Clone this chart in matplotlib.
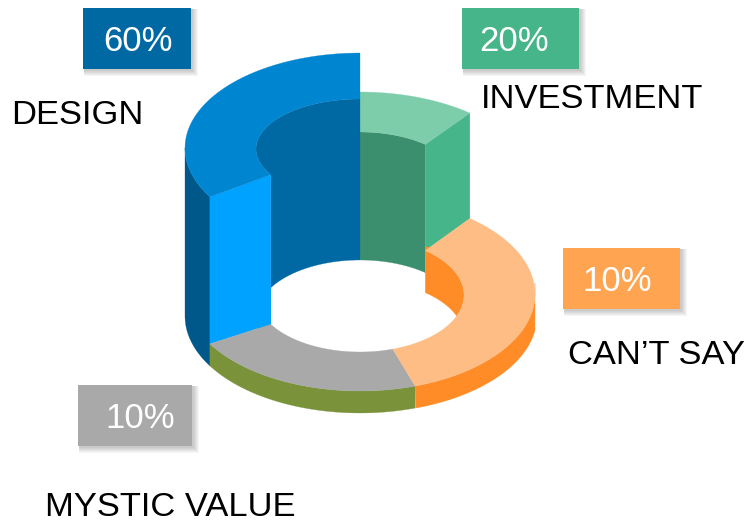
import numpy as np
import matplotlib
matplotlib.use('Agg')
from matplotlib import pyplot as plt
from matplotlib.patches import Polygon, Rectangle

# order of the slices going counter clockwise from 12 o'clock
categories = ['DESIGN', 'MYSTIC VALUE', "CAN\u2019T SAY", 'INVESTMENT']
value_labels = ['60%', '10%', '10%', '20%']
# share of the ring each slice really takes in the picture (percent of circle)
slice_share = [33.6, 21.5, 34.1, 10.8]
# how far each slice is pulled up above the ring (px)
slice_lift = [146, 0, 0, 107]

plt.rcParams['font.family'] = ['Liberation Sans', 'DejaVu Sans']

fig = plt.figure(figsize=(7.46, 5.2), dpi=100)
ax = fig.add_axes([0, 0, 1, 1])
ax.set_xlim(0, 746)
ax.set_ylim(520, 0)
ax.axis('off')

CX = 360
RX_OUT, RX_IN = 175, 104
CY_OUT, CY_IN = 294, 295
DEPTH = 22


def arc(t0, t1, rx, ry, cy):
    t = np.radians(np.linspace(t0, t1, 80))
    return np.column_stack([CX + rx * np.cos(t), cy - ry * np.sin(t)])


def poly(pts, color, z):
    ax.add_patch(Polygon(pts, closed=True, facecolor=color, edgecolor=color, lw=0.2, zorder=z))


# slice boundaries from the shares
edges = 90 + np.cumsum([0] + slice_share) * 3.6
d0, d1 = edges[0], edges[1]
m0, m1 = edges[1], edges[2]
c0, c1 = edges[2], edges[3]
i0, i1 = edges[3] - 360, edges[4] - 360
design_cy_out = CY_OUT - slice_lift[0]
design_cy_in = CY_IN - slice_lift[0]
inv_cy_out = CY_OUT - slice_lift[3]
inv_cy_in = CY_IN - slice_lift[3]

# outer sides
poly(np.vstack([arc(180, d1, RX_OUT, 95, design_cy_out),
                arc(d1, 180, RX_OUT, 97, CY_OUT + DEPTH)]), '#00578A', 1)
poly(np.vstack([arc(m0, m1, RX_OUT, 97, CY_OUT),
                arc(m1, m0, RX_OUT, 97, CY_OUT + DEPTH)]), '#7A933B', 1)
# the orange side runs a bit deeper at the right edge, so wider arc cut at the edge
low = arc(360, c0, RX_OUT + 2, 97, CY_OUT + DEPTH)
low[:, 0] = np.minimum(low[:, 0], CX + RX_OUT)
poly(np.vstack([arc(c0, 360, RX_OUT, 97, CY_OUT),
                [[CX + RX_OUT, CY_OUT - 11]],
                low]), '#FF8C26', 1)

# investment: wall, cut face, top
poly(np.vstack([arc(i1, i0, RX_IN, 56, inv_cy_in),
                arc(i0, i1, RX_IN, 57, CY_IN + DEPTH)]), '#3B8F6E', 2)
inv_face = np.vstack([arc(i0, i0, RX_OUT, 95, inv_cy_out)[:1],
                      arc(i0, i0, RX_IN, 56, inv_cy_in)[:1],
                      arc(i0, i0, RX_IN, 57, CY_IN)[:1],
                      arc(i0, i0, RX_OUT, 97, CY_OUT)[:1]])
poly(inv_face, '#47B58A', 2)
poly(np.vstack([arc(i0, i1, RX_OUT, 95, inv_cy_out),
                arc(i1, i0, RX_IN, 56, inv_cy_in)]), '#7DCDAB', 3)

# can't say: inner wall
start = c1 - 360
wall_top = arc(start, -20, RX_IN, 57, CY_IN)
wall_low = arc(20, start, RX_IN, 57, CY_IN + 42)
poly(np.vstack([[[wall_top[0, 0], wall_top[0, 1] - 4], [wall_top[0, 0] + 6, wall_top[0, 1] - 3]],
                wall_top, wall_low]), '#FF8C26', 3)

# design: wall, cut face, top
poly(np.vstack([arc(90, d1, RX_IN, 50, design_cy_in),
                arc(d1, 90, RX_IN, 57, CY_IN + DEPTH)]), '#0069A4', 4)
poly(np.vstack([arc(d1, d1, RX_OUT, 95, design_cy_out)[:1],
                arc(d1, d1, RX_IN, 50, design_cy_in)[:1],
                arc(d1, d1, RX_IN, 57, CY_IN)[:1],
                arc(d1, d1, RX_OUT, 97, CY_OUT)[:1]]), '#00A2FF', 4)
poly(np.vstack([arc(d0, d1, RX_OUT, 95, design_cy_out),
                arc(d1, d0, RX_IN, 50, design_cy_in)]), '#0085D1', 5)

# flat tops
poly(np.vstack([arc(m0, m1, RX_OUT, 97, CY_OUT),
                arc(m1, m0, RX_IN, 57, CY_IN)]), '#A9A9A9', 5)
poly(np.vstack([arc(c0, c1, RX_OUT, 97, CY_OUT),
                arc(c1, c0, RX_IN, 57, CY_IN)]), '#FDBD85', 5)

# value boxes with a soft shadow
box_pos = [(83, 8, 108, 61), (78, 385, 114, 61), (563, 248, 117, 61), (462, 8, 117, 61)]
box_colors = ['#0069A4', '#A9A9A9', '#FFA552', '#47B58A']
text_x = [138, 140, 617, 514]
for (x, y, w, h), col, lab, tx in zip(box_pos, box_colors, value_labels, text_x):
    for g in range(6, 0, -1):
        ax.add_patch(Rectangle((x + 1, y + 1), w + g, h + g, facecolor='black', alpha=0.035, lw=0, zorder=6))
    ax.add_patch(Rectangle((x, y), w, h, facecolor=col, lw=0, zorder=7))
    ax.text(tx, y + h / 2 + 3, lab, color='white', fontsize=25, ha='center', va='center', zorder=8)

# category labels
label_pos = [(11, 116), (45, 507), (568, 355), (481, 100)]
for (x, y), name in zip(label_pos, categories):
    ax.text(x, y, name, color='black', fontsize=24.8, ha='left', va='center', zorder=8)

fig.savefig('out.png', dpi=100)
